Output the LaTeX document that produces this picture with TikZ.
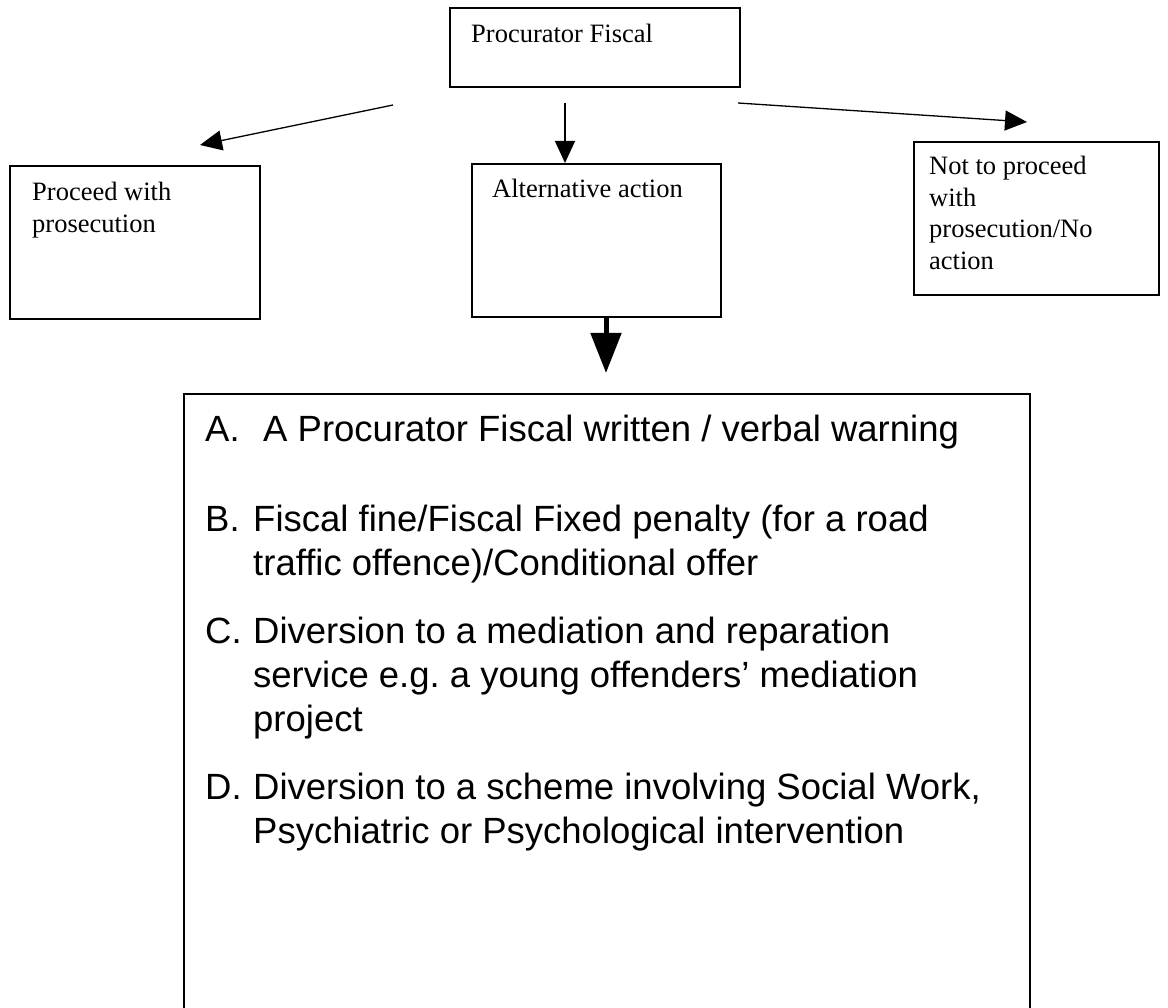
\documentclass[tikz,border=0pt]{standalone}
\usepackage{fontspec}
\setmainfont{Liberation Serif}
\newfontfamily\listfont{Liberation Sans}
\usetikzlibrary{positioning, calc, arrows.meta}

\tikzset{
    box/.style={draw, line width=1.6pt, inner sep=0pt, anchor=north west},
    boxtext/.style={anchor=base west, inner sep=0pt, font=\fontsize{26.5}{31.5}\selectfont},
    listtext/.style={anchor=base west, inner sep=0pt, font=\listfont\fontsize{36.5}{44}\selectfont},
    thinarrow/.style={line width=1.3pt, -{Triangle[length=22pt, width=20pt]}},
    thickarrow/.style={line width=5pt, -{Triangle[length=40pt, width=30pt]}}
}

\begin{document}
\begin{tikzpicture}[x=1pt, y=-1pt]
    \useasboundingbox (0,0) rectangle (1168,1008);
    \clip (0,0) rectangle (1168,1008);

    % odlocitev tozilca
    \node[box, minimum width=290pt, minimum height=79pt] (pf) at (449,7) {};
    \node[boxtext] (pftxt) at ($(pf.north west)+(22,36)$) {Procurator Fiscal};

    % tri moznosti
    \node[box, minimum width=250pt, minimum height=153pt] (proceed) at (9,165) {};
    \node[box, minimum width=249pt, minimum height=153pt] (alt) at (471,163) {};
    \node[box, minimum width=245pt, minimum height=153pt] (noaction) at (913,141) {};

    \node[boxtext] (proceedtxt) at ($(proceed.north west)+(23,36)$)
        {\begin{tabular}[t]{@{}l@{}}Proceed with\\prosecution\end{tabular}};
    \node[boxtext] (alttxt) at ($(alt.north west)+(21,35)$) {Alternative action};
    \node[boxtext] (noactiontxt) at ($(noaction.north west)+(16,34)$)
        {\begin{tabular}[t]{@{}l@{}}Not to proceed\\with\\prosecution/No\\action\end{tabular}};

    % puscice
    \coordinate (pfl) at (393,105);
    \coordinate (pfm) at (565,103);
    \coordinate (pfr) at (738,103);
    \coordinate (proceedtip) at (200,145);
    \coordinate (noactiontip) at (1027,122);
    \draw[thinarrow] (pfl) -- (proceedtip);
    \draw[thinarrow] (pfm) -- (pfm |- alt.north);
    \draw[thinarrow] (pfr) -- (noactiontip);

    % seznam ukrepov
    \node[box, minimum width=846pt, minimum height=700pt] (options) at (183,393) {};
    \coordinate (optip) at (606,373);
    \draw[thickarrow] (alt.south -| optip) -- (optip);

    \node[listtext] (itemA) at (205,442)
        {\begin{tabular}[t]{@{}p{58pt}@{}l@{}}A.&A Procurator Fiscal written / verbal warning\end{tabular}};
    \node[listtext] (itemB) at (205,531)
        {\begin{tabular}[t]{@{}p{48pt}@{}l@{}}B.&Fiscal fine/Fiscal Fixed penalty (for a road\\
        &traffic offence)/Conditional offer\end{tabular}};
    \node[listtext] (itemC) at (205,643)
        {\begin{tabular}[t]{@{}p{48pt}@{}l@{}}C.&Diversion to a mediation and reparation\\
        &service e.g.\ a young offenders’ mediation\\&project\end{tabular}};
    \node[listtext] (itemD) at (205,799)
        {\begin{tabular}[t]{@{}p{48pt}@{}l@{}}D.&Diversion to a scheme involving Social Work,\\
        &Psychiatric or Psychological intervention\end{tabular}};
\end{tikzpicture}
\end{document}
